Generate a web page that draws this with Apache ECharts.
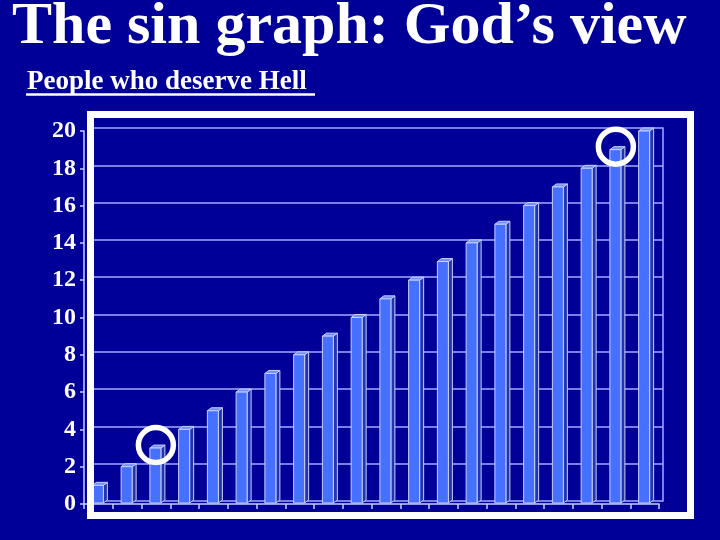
<!DOCTYPE html>
<html>
<head>
<meta charset="utf-8">
<script src="https://cdn.jsdelivr.net/npm/echarts@6/dist/echarts.min.js"></script>
<style>
html,body{margin:0;padding:0;background:#000099;}
#main{width:720px;height:540px;}
</style>
</head>
<body>
<div id="main"></div>
<script>
// ---- data ----
const categories = ['1','2','3','4','5','6','7','8','9','10','11','12','13','14','15','16','17','18','19','20'];
const values = [1,2,3,4,5,6,7,8,9,10,11,12,13,14,15,16,17,18,19,20];
const circledIndices = [2, 18];
const titleText = 'The sin graph: God\u2019s view';
const subtitleText = 'People who deserve Hell';
const yMin = 0, yMax = 20, yStep = 2;

const BG = '#000099';
const GRID = '#a3aaff';
const EDGE = '#c8ceff';
const FRONT = '#4670ff';
const SIDE = '#1f36b0';
const TOP = '#7090ff';
const SERIF = '"Liberation Serif","Times New Roman",serif';

const chart = echarts.init(document.getElementById('main'));

function renderBar(params, api) {
  const idx = api.value(0), v = api.value(1);
  const top = api.coord([idx, v]);
  const base = api.coord([idx, 0]);
  const w = 11, d = 4, dy = 3;
  const x0 = top[0] - 6;
  const yt = top[1], yb = base[1] - 1;
  return {
    type: 'group',
    children: [
      { type: 'polygon', shape: { points: [[x0 + w, yt], [x0 + w + d, yt - dy], [x0 + w + d, yb - dy], [x0 + w, yb]] },
        style: { fill: SIDE, stroke: EDGE, lineWidth: 1 } },
      { type: 'polygon', shape: { points: [[x0, yt], [x0 + d, yt - dy], [x0 + w + d, yt - dy], [x0 + w, yt]] },
        style: { fill: TOP, stroke: EDGE, lineWidth: 1 } },
      { type: 'rect', shape: { x: x0, y: yt, width: w, height: yb - yt },
        style: { fill: FRONT, stroke: EDGE, lineWidth: 1 } }
    ]
  };
}

const option = {
  backgroundColor: BG,
  animation: false,
  grid: [
    { left: 88, top: 128, width: 575, height: 373 },
    { left: 84, top: 131, width: 575, height: 373 }
  ],
  xAxis: [
    { type: 'category', gridIndex: 0, data: categories, show: false },
    { type: 'category', gridIndex: 1, data: categories,
      axisLine: { show: true, lineStyle: { color: EDGE, width: 1.5 } },
      axisTick: { show: true, length: 5, lineStyle: { color: EDGE, width: 1.5 } },
      axisLabel: { show: false }, splitLine: { show: false } }
  ],
  yAxis: [
    { type: 'value', gridIndex: 0, min: yMin, max: yMax, interval: yStep,
      axisLine: { show: false }, axisTick: { show: false }, axisLabel: { show: false },
      splitLine: { show: true, lineStyle: { color: GRID, width: 1.5 } } },
    { type: 'value', gridIndex: 1, min: yMin, max: yMax, interval: yStep,
      axisLine: { show: true, lineStyle: { color: EDGE, width: 1.5 } },
      axisTick: { show: true, length: 4, lineStyle: { color: EDGE, width: 1.5 } },
      axisLabel: { color: '#ffffff', fontFamily: SERIF, fontWeight: 'bold', fontSize: 24, margin: 8 },
      splitLine: { show: false } },
    { type: 'value', gridIndex: 0, position: 'right', min: yMin, max: yMax, interval: yStep,
      axisLine: { show: true, lineStyle: { color: GRID, width: 1.5 } },
      axisTick: { show: false }, axisLabel: { show: false }, splitLine: { show: false } }
  ],
  series: [
    { type: 'custom', xAxisIndex: 1, yAxisIndex: 1, renderItem: renderBar,
      data: values.map((v, i) => [i, v]), z: 5 },
    { type: 'scatter', xAxisIndex: 1, yAxisIndex: 1, symbol: 'circle', symbolSize: 35,
      symbolOffset: [0, -3],
      itemStyle: { color: 'rgba(0,0,0,0)', borderColor: '#ffffff', borderWidth: 5.5, opacity: 1 },
      data: circledIndices.map(i => [i, values[i]]), z: 20, silent: true }
  ],
  graphic: [
    { type: 'rect', z: 100, silent: true,
      shape: { x: 90.5, y: 114.5, width: 600, height: 401 },
      style: { fill: 'none', stroke: '#ffffff', lineWidth: 7 } },
    { type: 'text', z: 100, x: 12, y: 27,
      style: { text: titleText, fill: '#ffffff', font: 'bold 60px ' + SERIF, verticalAlign: 'middle', align: 'left' } },
    { type: 'text', z: 100, x: 27, y: 82,
      style: { text: subtitleText, fill: '#ffffff', font: 'bold 27px ' + SERIF, verticalAlign: 'middle', align: 'left' } },
    { type: 'line', z: 100, shape: { x1: 26, y1: 94.5, x2: 315, y2: 94.5 },
      style: { stroke: '#ffffff', lineWidth: 2.5 } }
  ]
};
chart.setOption(option);
</script>
</body>
</html>
